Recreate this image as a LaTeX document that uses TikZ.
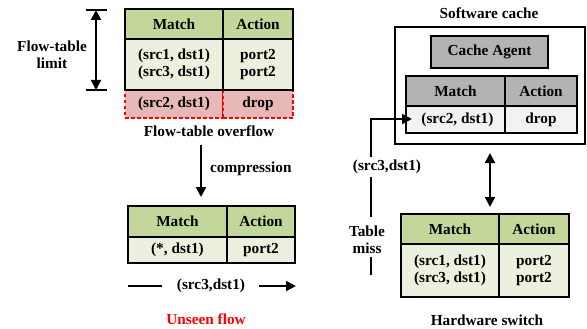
\documentclass[tikz,border=0pt]{standalone}
\usepackage{fontspec}
\setmainfont{Liberation Serif}
\usetikzlibrary{arrows.meta}
\definecolor{ghdr}{HTML}{C4D79B}
\definecolor{gbody}{HTML}{EBF1DE}
\definecolor{rfill}{HTML}{E6B8B7}
\definecolor{grhdr}{HTML}{B3B3B3}
\definecolor{grbody}{HTML}{F2F2F2}
\definecolor{ured}{HTML}{FF0000}
\tikzset{
  every node/.style={font=\fontsize{15.3}{16.5}\selectfont\bfseries, inner sep=0pt},
  cell/.style={draw=black, line width=2pt, rectangle, align=center},
  redcell/.style={draw=ured, line width=2pt, dash pattern=on 3.5pt off 2.5pt, fill=rfill, rectangle, align=center},
  lbl/.style={align=center},
  arr/.style={line width=2pt, -{Triangle[length=10pt,width=10pt]}},
  darr/.style={line width=2pt, {Triangle[length=10pt,width=10pt]}-{Triangle[length=10pt,width=10pt]}},
  plain/.style={line width=2pt}
}
\begin{document}
\begin{tikzpicture}[x=1pt,y=-1pt]
\useasboundingbox (0,0) rectangle (587,329);
% ---------- Table 1 (top left) ----------
\node[redcell, minimum width=98, minimum height=28] (t1mr) at (174,104) {(src2, dst1)};
\node[redcell, minimum width=70, minimum height=28] (t1ar) at (258,104) {drop};
\node[cell, fill=ghdr, minimum width=98, minimum height=29.5] (t1mh) at (174,24.25) {Match};
\node[cell, fill=ghdr, minimum width=70, minimum height=29.5] (t1ah) at (258,24.25) {Action};
\node[cell, fill=gbody, minimum width=98, minimum height=51] (t1mb) at (174,64.5) {(src1, dst1)\\(src3, dst1)};
\node[cell, fill=gbody, minimum width=70, minimum height=51] (t1ab) at (258,64.5) {port2\\port2};
% dimension arrow
\coordinate (dimt) at (96,10);
\coordinate (dimb) at (96,90);
\draw[plain] (86,10) -- (107,10);
\draw[plain] (86,90) -- (107,90);
\draw[darr] (dimt) -- (dimb);
\node[lbl] (limit) at (52,55) {Flow-table\\limit};
\node[lbl] (overflow) at (209,131) {Flow-table overflow};
% compression arrow
\coordinate (c1) at (201,145);
\coordinate (c2) at (201,197);
\draw[arr] (c1) -- (c2);
\node[lbl, anchor=west] (compr) at (210,169) {compression};
% ---------- Table 2 (bottom left) ----------
\node[cell, fill=ghdr, minimum width=99, minimum height=31] (t2mh) at (177.5,221.5) {Match};
\node[cell, fill=ghdr, minimum width=68, minimum height=31] (t2ah) at (261,221.5) {Action};
\node[cell, fill=gbody, minimum width=99, minimum height=26] (t2mb) at (177.5,250) {(*, dst1)};
\node[cell, fill=gbody, minimum width=68, minimum height=26] (t2ab) at (261,250) {port2};
\node[lbl] (flow) at (211,286) {(src3,dst1)};
\coordinate (fl0) at (128,286);
\coordinate (fl1) at (162,286);
\coordinate (fl2) at (259,286);
\coordinate (fl3) at (296,286);
\draw[plain] (fl0) -- (fl1);
\draw[arr] (fl2) -- (fl3);
\node[lbl, text=ured] (unseen) at (206,319) {Unseen flow};
% ---------- Software cache ----------
\node[lbl] (swlabel) at (489,13) {Software cache};
\node[draw, line width=2pt, minimum width=190, minimum height=117] (swbox) at (490,85.5) {};
\node[cell, fill=grhdr, minimum width=117, minimum height=32] (agent) at (489.5,52) {Cache Agent};
\node[cell, fill=grhdr, minimum width=99, minimum height=30] (t3mh) at (455.5,91) {Match};
\node[cell, fill=grhdr, minimum width=72, minimum height=30] (t3ah) at (541,91) {Action};
\node[cell, fill=grbody, minimum width=99, minimum height=27] (t3mb) at (455.5,119.5) {~(src2, dst1)};
\node[cell, fill=grbody, minimum width=72, minimum height=27] (t3ab) at (541,119.5) {drop};
% ---------- Hardware switch ----------
\node[cell, fill=ghdr, minimum width=98, minimum height=30] (t4mh) at (450,229) {Match};
\node[cell, fill=ghdr, minimum width=70, minimum height=30] (t4ah) at (534,229) {Action};
\node[cell, fill=gbody, minimum width=98, minimum height=53] (t4mb) at (450,270.5) {(src1, dst1)\\(src3, dst1)};
\node[cell, fill=gbody, minimum width=70, minimum height=53] (t4ab) at (534,270.5) {port2\\port2};
\node[lbl] (hwlabel) at (487,320) {Hardware switch};
% double arrow between cache and switch
\coordinate (d1) at (490,153);
\coordinate (d2) at (490,207);
\draw[darr] (d1) -- (d2);
% table miss path
\node[lbl] (miss) at (367,240) {Table\\miss};
\node[lbl] (src3) at (387,167) {(src3,dst1)};
\coordinate (mbot) at (371,275);
\coordinate (mb2) at (371,257);
\coordinate (mt1) at (371,217);
\coordinate (mt2) at (371,177);
\coordinate (mstart) at (371,157);
\coordinate (mturn) at (371,119);
\coordinate (mtip) at (412,119);
\draw[plain] (mbot) -- (mb2);
\draw[plain] (mt1) -- (mt2);
\draw[arr] (mstart) -- (mturn) -- (mtip);
\end{tikzpicture}
\end{document}
